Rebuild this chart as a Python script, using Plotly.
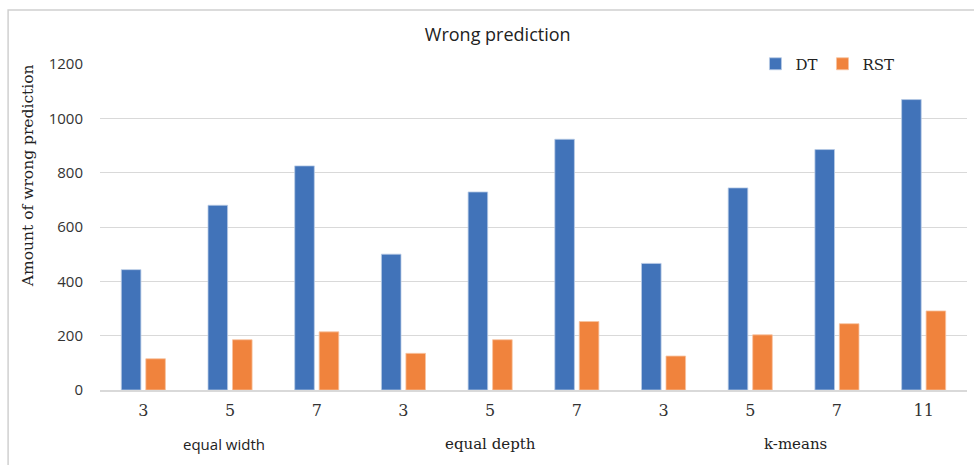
import plotly.graph_objects as go

# Discretisation methods and the number of bins used with each
methods = ["equal width", "equal depth", "k-means"]
bins = [["3", "5", "7"], ["3", "5", "7"], ["3", "5", "7", "11"]]

# Number of wrong predictions per configuration
dt_values = [443, 680, 825, 500, 729, 923, 466, 744, 885, 1069]
rst_values = [115, 185, 214, 135, 185, 252, 125, 203, 244, 291]

blue = "#4173B9"
orange = "#F0833D"
sans = "Open Sans, Liberation Sans, sans-serif"
serif = "DejaVu Serif, Liberation Serif, serif"

# Unique category keys, with the bin count shown as the tick label
keys, tick_text, group_centres = [], [], []
for m, b_list in zip(methods, bins):
    start = len(keys)
    for b in b_list:
        keys.append(f"{m}|{b}")
        tick_text.append(b)
    group_centres.append((start + len(keys) - 1) / 2)

fig = go.Figure()
fig.add_trace(go.Bar(
    name="DT", x=keys, y=dt_values,
    marker=dict(color=blue, line=dict(color="#B9CBE6", width=0.8)),
))
fig.add_trace(go.Bar(
    name="RST", x=keys, y=rst_values,
    marker=dict(color=orange, line=dict(color="#F8C3A0", width=0.8)),
))

fig.update_layout(
    width=974, height=465,
    margin=dict(l=100, r=7, t=64, b=75),
    paper_bgcolor="white", plot_bgcolor="white",
    barmode="group", bargap=0.435, bargroupgap=0.2,
    title=dict(text="Wrong prediction", x=0.511, xanchor="center",
               y=0.925, yanchor="middle",
               font=dict(family=sans, size=18, color="#222")),
    legend=dict(orientation="h", x=0.756, xanchor="left", y=1.0,
                yanchor="middle", bgcolor="white",
                font=dict(family=serif, size=15, color="#222"),
                itemwidth=30, traceorder="normal"),
    showlegend=True,
)

fig.update_xaxes(
    type="category", tickmode="array", tickvals=keys, ticktext=tick_text,
    tickfont=dict(family=serif, size=16, color="#333"),
    showgrid=False, showline=True, linecolor="#D9D9D9", linewidth=1.5,
    ticks="", ticklabelstandoff=5,
)
fig.update_yaxes(
    range=[0, 1200], dtick=200, showgrid=True, gridcolor="#D9D9D9",
    gridwidth=1.3, zeroline=False, showline=False,
    tickfont=dict(family=sans, size=15, color="#333"),
    ticklabelstandoff=16,
)

# Vertical axis title
fig.add_annotation(
    x=-0.083, xref="paper", y=0.656, yref="paper",
    xanchor="center", yanchor="middle", textangle=-90,
    text="Amount of wrong prediction", showarrow=False,
    font=dict(family=serif, size=15.5, color="#222"),
)

# Group labels beneath the bin ticks
group_fonts = [sans, serif, serif]
group_shift = [-0.07, 0.0, 0.02]
for centre, m, f, s in zip(group_centres, methods, group_fonts, group_shift):
    fig.add_annotation(
        x=centre + s, xref="x", y=-0.167, yref="paper", yanchor="middle",
        text=m, showarrow=False,
        font=dict(family=f, size=15, color="#222"),
    )

# Light frame round the chart area
fig.add_shape(type="rect", xref="paper", yref="paper",
              x0=-0.106, x1=1.02, y0=-0.3, y1=1.166,
              line=dict(color="#D0D0D0", width=1.5), fillcolor="rgba(0,0,0,0)",
              layer="below")

fig.write_html("out.html")
